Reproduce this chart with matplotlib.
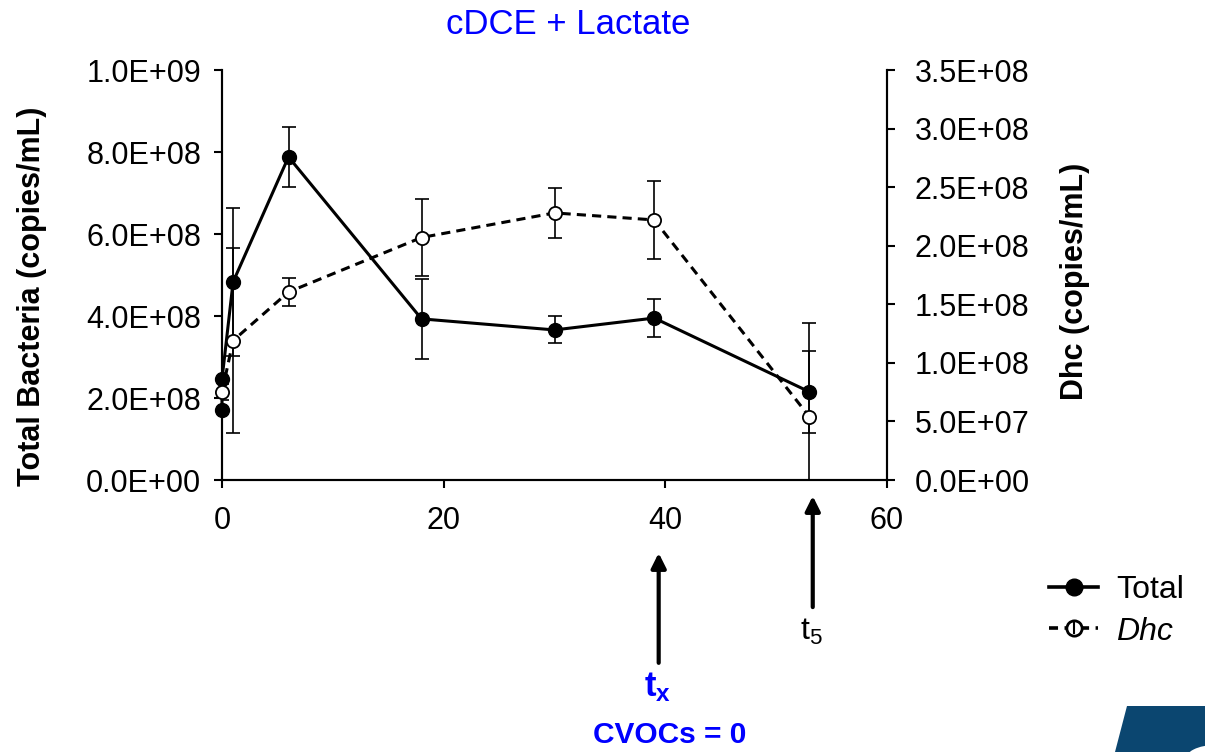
import matplotlib
matplotlib.use("Agg")
import matplotlib.pyplot as plt
from matplotlib.lines import Line2D
from matplotlib.patches import Polygon, Ellipse

plt.rcParams['font.family'] = ['Liberation Sans', 'DejaVu Sans']
plt.rcParams['mathtext.fontset'] = 'custom'
plt.rcParams['mathtext.rm'] = 'Liberation Sans'
plt.rcParams['mathtext.it'] = 'Liberation Sans:italic'
plt.rcParams['mathtext.bf'] = 'Liberation Sans:bold'

# ---- data ----
days_total = [0, 0, 1, 6, 18, 30, 39, 53]
total = [1.71e8, 2.46e8, 4.83e8, 7.88e8, 3.93e8, 3.66e8, 3.95e8, 2.15e8]
total_err = [0, 0, 1.80e8, 0.73e8, 0.98e8, 0.33e8, 0.46e8, 1.00e8]

days_dhc = [0, 1, 6, 18, 30, 39, 53]
dhc = [0.75e8, 1.19e8, 1.605e8, 2.07e8, 2.28e8, 2.22e8, 0.54e8]
dhc_err = [0.07e8, 0.79e8, 0.12e8, 0.33e8, 0.21e8, 0.33e8, 0.80e8]

left_ticks = [0, 2e8, 4e8, 6e8, 8e8, 1e9]
right_ticks = [0, 5e7, 1e8, 1.5e8, 2e8, 2.5e8, 3e8, 3.5e8]
x_ticks = [0, 20, 40, 60]

title = "cDCE + Lactate"
fs = 22

fig = plt.figure(figsize=(12.05, 7.52), dpi=100)
ax = fig.add_axes([222/1205, 1-480/752, (887-222)/1205, 410/752])
ax2 = ax.twinx()

# total
ax.errorbar(days_total, total, yerr=total_err, fmt='none', ecolor='black',
            elinewidth=1.2, capsize=5, capthick=1.2, zorder=2)
ax.plot(days_total, total, '-', color='black', lw=2.2, marker='o', ms=10,
        mfc='black', mec='black', clip_on=False, zorder=3)

# dhc
ax2.errorbar(days_dhc, dhc, yerr=dhc_err, fmt='none', ecolor='black',
             elinewidth=1.2, capsize=5, capthick=1.2, zorder=2)
ax2.plot(days_dhc, dhc, '--', color='black', lw=2.2, dashes=(3, 2), marker='o',
         ms=9.5, mfc='white', mec='black', mew=1.3, clip_on=False, zorder=3)

ax.set_xlim(0, 60)
ax.set_ylim(0, 1e9)
ax2.set_ylim(0, 3.5e8)
ax.set_xticks(x_ticks)
ax.set_yticks(left_ticks)
ax.set_yticklabels([f"{v:.1E}" for v in left_ticks])
ax2.set_yticks(right_ticks)
ax2.set_yticklabels([f"{v:.1E}" for v in right_ticks])

for a in (ax, ax2):
    for s in a.spines.values():
        s.set_linewidth(1.5)
    a.tick_params(axis='both', labelsize=fs, width=1.5, length=6, direction='out')
ax.spines['top'].set_visible(False)
ax2.spines['top'].set_visible(False)
ax.tick_params(axis='x', pad=13)
ax.tick_params(axis='y', pad=9)
ax2.tick_params(axis='y', pad=14)

ax.set_ylabel("Total Bacteria (copies/mL)", fontsize=22, fontweight='bold')
ax.yaxis.set_label_coords(-0.263, 0.449)
ax2.set_ylabel("Dhc (copies/mL)", fontsize=22, fontweight='bold')
ax2.yaxis.set_label_coords(1.260, 0.485)
fig.text(568/1205, 1-24/752, title, color='#0000ff', fontsize=25,
         ha='center', va='center')

# annotations
tr = ax.get_xaxis_transform()
arrow = dict(arrowstyle='-|>', lw=3, mutation_scale=22, color='black',
             shrinkA=0, shrinkB=0)
ax.annotate('', xy=(39.4, -0.178), xytext=(39.4, -0.446), xycoords=tr,
            textcoords=tr, arrowprops=arrow, annotation_clip=False)
ax.annotate('', xy=(53.3, -0.039), xytext=(53.3, -0.310), xycoords=tr,
            textcoords=tr, arrowprops=arrow, annotation_clip=False)
ax.text(53.2, -0.37, r"t$_5$", transform=tr, ha='center', va='center', fontsize=23)
ax.text(39.3, -0.505, r"$\mathbf{t_x}$", transform=tr, ha='center', va='center',
        fontsize=25, color='#0000ff')
ax.text(40.4, -0.622, "CVOCs = 0", transform=tr, ha='center', va='center',
        fontsize=21.5, color='#0000ff', fontweight='bold')

# legend
h_total = Line2D([], [], color='black', lw=2.6, marker='o', ms=12, mfc='black')
h_dhc = Line2D([], [], color='black', lw=2.6, ls='--', dashes=(2.5, 1.8), marker='o',
               ms=11, mfc='white', mew=2)
h_bar = Line2D([], [], color='none', marker='|', ms=9, mec='black', mew=1.5)
fig.legend([h_total, (h_dhc, h_bar)], ["Total", "Dhc"], loc='center left',
           bbox_to_anchor=(1020/1205, 1-611/752), frameon=False, fontsize=23,
           handlelength=1.55, handletextpad=0.55, labelspacing=0.35)
leg = fig.legends[0]
leg.get_texts()[1].set_style('italic')

# logo fragment
fig.patches.append(Polygon([(1127/1205, 1-706/752), (1.0, 1-706/752), (1.0, 0.0),
                            (1115/1205, 0.0)], closed=True, transform=fig.transFigure,
                           facecolor='#0b4670', edgecolor='none'))
fig.patches.append(Ellipse((1215/1205, 1-760/752), 60/1205, 30/752,
                           transform=fig.transFigure, facecolor='white', edgecolor='none'))

fig.savefig("out.png", dpi=100)
